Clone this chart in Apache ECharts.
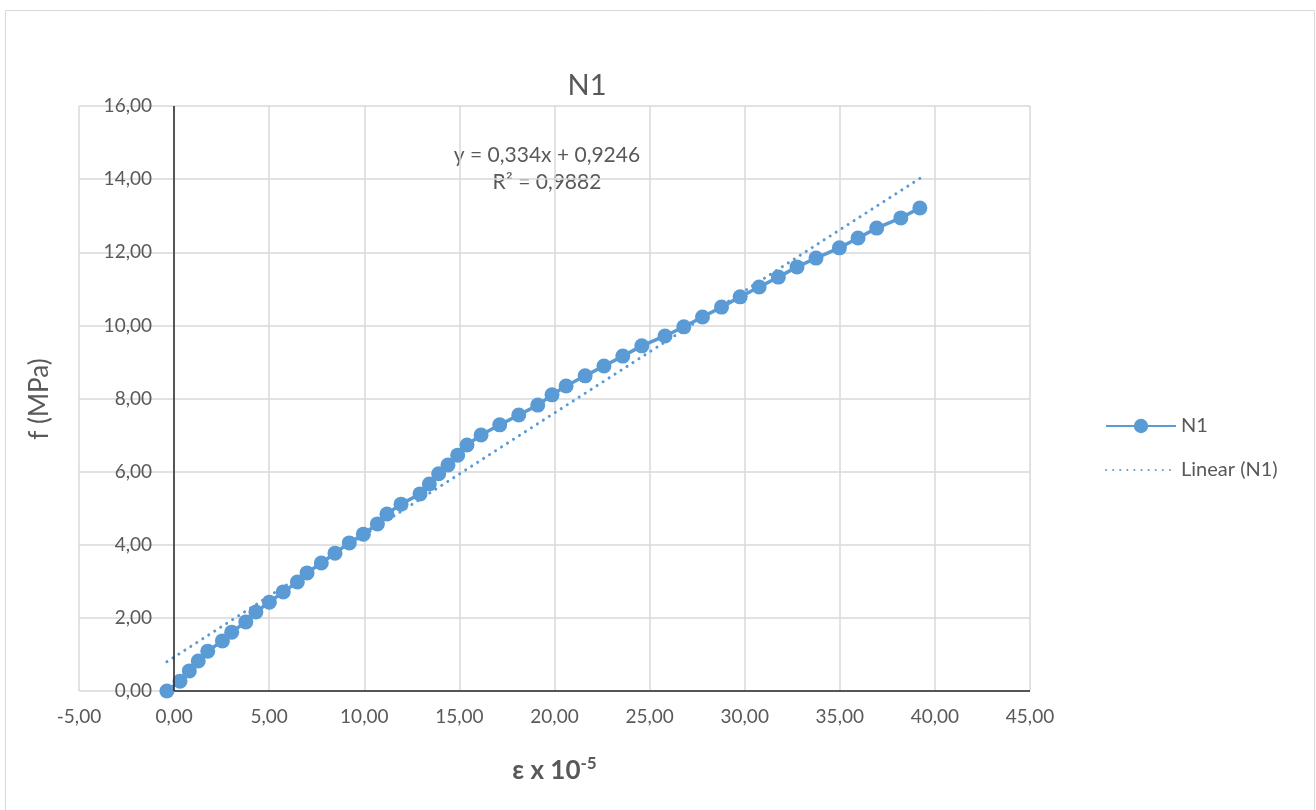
<!DOCTYPE html>
<html><head><meta charset="utf-8">
<script src="https://cdn.jsdelivr.net/npm/echarts@6/dist/echarts.min.js"></script>
<style>html,body{margin:0;padding:0;background:#fff}#c{width:1316px;height:810px}</style>
</head><body><div id="c"></div>
<script>
const strain = [-0.38,0.31,0.80,1.27,1.77,2.54,3.03,3.77,4.30,5.01,5.74,6.48,6.99,7.74,8.46,9.21,9.95,10.69,11.19,11.93,12.93,13.42,13.91,14.40,14.91,15.40,16.14,17.12,18.12,19.12,19.87,20.61,21.61,22.60,23.59,24.59,25.81,26.80,27.78,28.78,29.76,30.76,31.77,32.75,33.75,34.98,35.96,36.94,38.21,39.21];
const stress = [0,0.27,0.55,0.82,1.09,1.37,1.61,1.89,2.16,2.43,2.71,2.98,3.23,3.50,3.77,4.05,4.29,4.57,4.84,5.11,5.39,5.66,5.94,6.18,6.45,6.73,7.00,7.28,7.55,7.82,8.10,8.34,8.62,8.89,9.16,9.44,9.71,9.96,10.23,10.50,10.78,11.05,11.32,11.60,11.84,12.12,12.39,12.66,12.94,13.21];
const trendX = [-0.38, 39.21];
const trendY = [0.80, 14.02];
const seriesName = 'N1';
const trendName = 'Linear (N1)';
const eqText = 'y = 0,334x + 0,9246';
const r2Text = 'R² = 0,9882';
const yName = 'f (MPa)';

const FONT = 'Lato, "Open Sans", sans-serif';
const TXT = '#595959';
const BLUE = '#5B9BD5';
const fmt = v => v.toFixed(2).replace('.', ',');

const chart = echarts.init(document.getElementById('c'));
chart.setOption({
  animation: false,
  backgroundColor: '#fff',
  textStyle: { fontFamily: FONT },
  title: {
    text: 'N1', left: 582, top: 66, textAlign: 'center',
    textStyle: { fontFamily: FONT, fontSize: 29, fontWeight: 'normal', color: TXT }
  },
  grid: { left: 79, right: 286, top: 106, bottom: 119, containLabel: false, outerBoundsMode: 'none' },
  legend: {
    orient: 'vertical', left: 1100, top: 411, itemWidth: 70, itemHeight: 18, itemGap: 24,
    textStyle: { fontFamily: FONT, fontSize: 20, color: TXT },
    data: [
      { name: seriesName },
      { name: trendName, itemStyle: { color: 'rgba(0,0,0,0)', opacity: 0, borderWidth: 0 } }
    ]
  },
  xAxis: {
    type: 'value', min: -5, max: 45, interval: 5,
    axisLine: { show: false }, axisTick: { show: false },
    splitLine: { show: true, lineStyle: { color: '#D9D9D9', width: 1.5 } },
    axisLabel: { formatter: fmt, margin: 16, fontFamily: FONT, fontSize: 19, color: TXT },
    name: '{a|ε x 10}{b|-5}', nameLocation: 'middle', nameGap: 64, nameMoveOverlap: false,
    nameTextStyle: {
      rich: {
        a: { fontFamily: FONT, fontSize: 26, fontWeight: 'bold', color: TXT, lineHeight: 32 },
        b: { fontFamily: FONT, fontSize: 17, fontWeight: 'bold', color: TXT, lineHeight: 17, verticalAlign: 'top' }
      }
    }
  },
  yAxis: {
    type: 'value', min: 0, max: 16, interval: 2, offset: -95,
    axisLine: { show: false }, axisTick: { show: false },
    splitLine: { show: true, lineStyle: { color: '#D9D9D9', width: 1.5 } },
    axisLabel: { formatter: fmt, margin: 22, fontFamily: FONT, fontSize: 19, color: TXT }
  },
  series: [
    {
      name: seriesName, type: 'line',
      data: strain.map((x, i) => [x, stress[i]]),
      symbol: 'circle', symbolSize: 15,
      itemStyle: { color: BLUE },
      lineStyle: { color: BLUE, width: 3.5 },
      z: 3,
      markLine: {
        silent: true, symbol: 'none', label: { show: false },
        lineStyle: { color: '#262626', width: 1.5, type: 'solid' },
        data: [
          [{ coord: [0, 0] }, { coord: [0, 16] }],
          [{ coord: [0, 0] }, { coord: [45, 0] }]
        ]
      }
    },
    {
      name: trendName, type: 'line',
      data: trendX.map((x, i) => [x, trendY[i]]),
      symbol: 'none', showSymbol: false,
      itemStyle: { color: BLUE },
      lineStyle: { color: BLUE, width: 3, type: [0.1, 7], cap: 'round' },
      z: 2
    }
  ],
  graphic: [
    { type: 'rect', left: 3, top: 8, shape: { width: 1309, height: 801 }, style: { fill: 'none', stroke: '#D9D9D9', lineWidth: 1 }, silent: true },
    { type: 'text', x: 547, y: 155, style: { text: eqText, fontFamily: FONT, fontSize: 21, fill: TXT, align: 'center', verticalAlign: 'middle' } },
    { type: 'text', x: 547, y: 182, style: { text: r2Text, fontFamily: FONT, fontSize: 21, fill: TXT, align: 'center', verticalAlign: 'middle' } },
    { type: 'text', x: 40, y: 399, rotation: Math.PI / 2, style: { text: yName, fontFamily: FONT, fontSize: 26, fill: TXT, align: 'center', verticalAlign: 'middle' } }
  ]
});
</script>
</body></html>
